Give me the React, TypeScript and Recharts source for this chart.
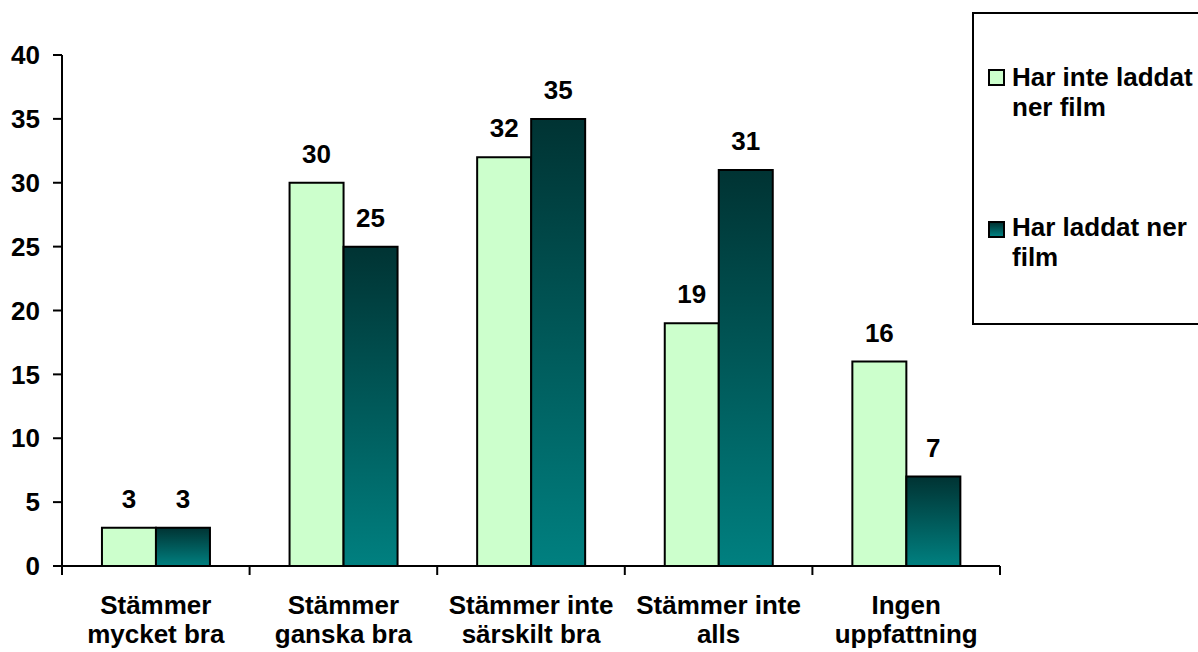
import React from "react";
import { BarChart, Bar, XAxis, YAxis, LabelList, Legend } from "recharts";

const categories = [
  "Stämmer\nmycket bra",
  "Stämmer\nganska bra",
  "Stämmer inte\nsärskilt bra",
  "Stämmer inte\nalls",
  "Ingen\nuppfattning",
];
const seriesNames = ["Har inte laddat ner film", "Har laddat ner film"];
const legendLines = [
  ["Har inte laddat", "ner film"],
  ["Har laddat ner", "film"],
];
const notDownloaded = [3, 30, 32, 19, 16];
const downloaded = [3, 25, 35, 31, 7];
const yTicks = [0, 5, 10, 15, 20, 25, 30, 35, 40];

const data = categories.map((c, i) => ({
  category: c,
  a: notDownloaded[i],
  b: downloaded[i],
}));

const FONT = "'Liberation Sans', Arial, Helvetica, sans-serif";
const LIGHT = "#CCFFCC";
const DARK_TOP = "#003333";
const DARK_BOTTOM = "#008080";

const XTick = (props: any) => {
  const { x, y, payload } = props;
  const off = payload.offset ?? 0;
  const lines = String(payload.value).split("\n");
  const isLast = payload.index === categories.length - 1;
  return (
    <g>
      <line x1={x - off} x2={x - off} y1={y} y2={y + 9} stroke="#000" strokeWidth={2} />
      {isLast && (
        <line x1={x + off} x2={x + off} y1={y} y2={y + 9} stroke="#000" strokeWidth={2} />
      )}
      {lines.map((l, i) => (
        <text
          key={i}
          x={x}
          y={y + 48 + i * 29}
          textAnchor="middle"
          fontFamily={FONT}
          fontWeight="bold"
          fontSize={26}
          fill="#000"
        >
          {l}
        </text>
      ))}
    </g>
  );
};

const LegendBox = () => {
  const items = [
    { sq: 57, txt: 49.5, bg: LIGHT },
    { sq: 209, txt: 199.5, bg: `linear-gradient(${DARK_TOP}, ${DARK_BOTTOM})` },
  ];
  return (
    <div
      style={{
        position: "relative",
        width: 226,
        height: 313,
        boxSizing: "border-box",
        borderTop: "2px solid #000",
        borderLeft: "2px solid #000",
        borderBottom: "2px solid #000",
        background: "#fff",
        fontFamily: FONT,
        fontWeight: "bold",
        fontSize: 26,
        color: "#000",
      }}
    >
      {items.map((it, i) => (
        <React.Fragment key={seriesNames[i]}>
          <div
            style={{
              position: "absolute",
              left: 14,
              top: it.sq - 2,
              width: 17,
              height: 17,
              boxSizing: "border-box",
              border: "2px solid #000",
              background: it.bg,
            }}
          />
          <div
            style={{
              position: "absolute",
              left: 38,
              top: it.txt - 2,
              lineHeight: "30px",
              whiteSpace: "nowrap",
            }}
          >
            {legendLines[i].map((l) => (
              <div key={l}>{l}</div>
            ))}
          </div>
        </React.Fragment>
      ))}
    </div>
  );
};

export default function App() {
  return (
    <div
      style={{
        position: "absolute",
        left: 0,
        top: 0,
        width: 1198,
        height: 652,
        overflow: "hidden",
        background: "#fff",
      }}
    >
      <BarChart
        width={1198}
        height={652}
        data={data}
        margin={{ top: 55, right: 198, bottom: 0, left: 0 }}
        barCategoryGap="21.3%"
        barGap={0}
      >
        <defs>
          <linearGradient id="darkGrad" x1="0" y1="0" x2="0" y2="1">
            <stop offset="0%" stopColor={DARK_TOP} />
            <stop offset="100%" stopColor={DARK_BOTTOM} />
          </linearGradient>
        </defs>
        <XAxis
          dataKey="category"
          height={86}
          tickLine={false}
          tickSize={0}
          tickMargin={0}
          axisLine={{ stroke: "#000", strokeWidth: 2 }}
          tick={<XTick />}
          interval={0}
        />
        <YAxis
          width={62}
          domain={[0, 40]}
          ticks={yTicks}
          interval={0}
          tickSize={9}
          tickMargin={13}
          axisLine={{ stroke: "#000", strokeWidth: 2 }}
          tickLine={{ stroke: "#000", strokeWidth: 2 }}
          tick={{ fill: "#000", fontFamily: FONT, fontWeight: "bold", fontSize: 26 }}
        />
        <Legend
          layout="vertical"
          align="center"
          verticalAlign="middle"
          wrapperStyle={{ position: "absolute", left: 972, top: 12, width: 226, height: 313 }}
          content={() => <LegendBox />}
        />
        <Bar
          dataKey="a"
          name={seriesNames[0]}
          fill={LIGHT}
          stroke="#000"
          strokeWidth={2}
          isAnimationActive={false}
        >
          <LabelList
            dataKey="a"
            position="top"
            offset={20}
            fill="#000"
            fontFamily={FONT}
            fontWeight="bold"
            fontSize={26}
          />
        </Bar>
        <Bar
          dataKey="b"
          name={seriesNames[1]}
          fill="url(#darkGrad)"
          stroke="#000"
          strokeWidth={2}
          isAnimationActive={false}
        >
          <LabelList
            dataKey="b"
            position="top"
            offset={20}
            fill="#000"
            fontFamily={FONT}
            fontWeight="bold"
            fontSize={26}
          />
        </Bar>
      </BarChart>
    </div>
  );
}
